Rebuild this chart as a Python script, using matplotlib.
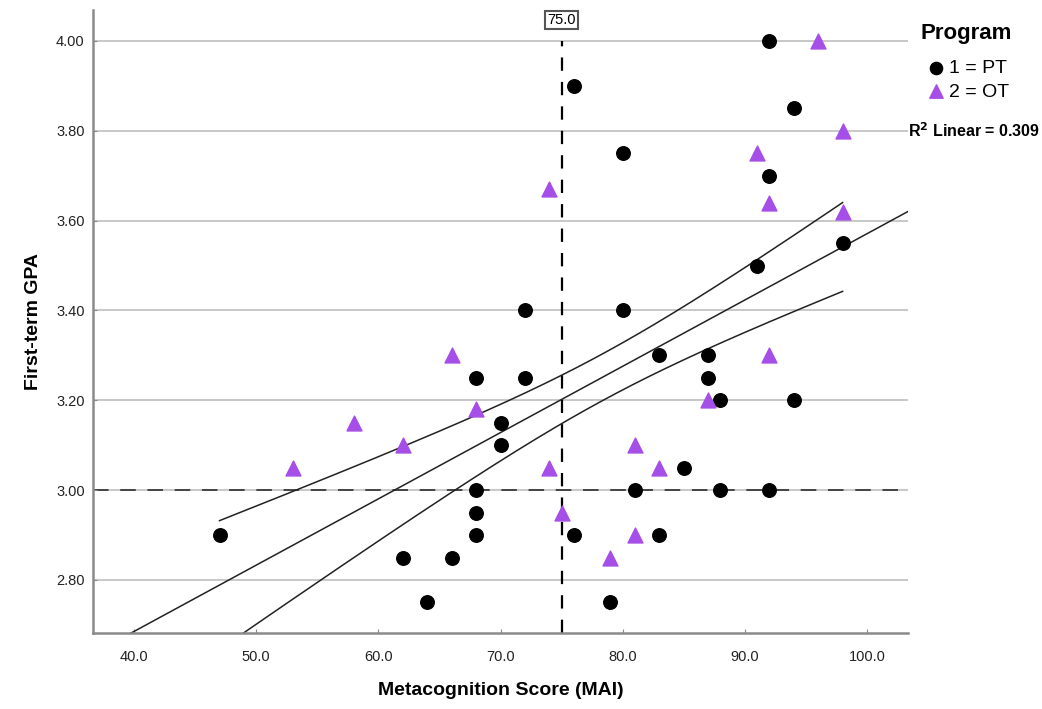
import numpy as np
import matplotlib
matplotlib.use("Agg")
import matplotlib.pyplot as plt

plt.rcParams['font.family'] = ['Liberation Sans', 'DejaVu Sans']

# Program 1 = PT
pt_mai = [92, 76, 94, 80, 92, 98, 91, 72, 80, 83, 87, 68, 72, 87, 88, 94, 70, 70, 85,
          68, 81, 88, 92, 68, 47, 68, 76, 83, 62, 66, 64, 79]
pt_gpa = [4.00, 3.90, 3.85, 3.75, 3.70, 3.55, 3.50, 3.40, 3.40, 3.30, 3.30, 3.25, 3.25, 3.25,
          3.20, 3.20, 3.15, 3.10, 3.05, 3.00, 3.00, 3.00, 3.00, 2.95, 2.90, 2.90, 2.90, 2.90,
          2.85, 2.85, 2.75, 2.75]

# Program 2 = OT
ot_mai = [96, 98, 91, 74, 92, 98, 66, 92, 68, 87, 58, 62, 81, 53, 74, 83, 75, 81, 79]
ot_gpa = [4.00, 3.80, 3.75, 3.67, 3.64, 3.62, 3.30, 3.30, 3.18, 3.20, 3.15, 3.10, 3.10,
          3.05, 3.05, 3.05, 2.95, 2.90, 2.85]

x_ticks = [40, 50, 60, 70, 80, 90, 100]
y_ticks = [2.8, 3.0, 3.2, 3.4, 3.6, 3.8, 4.0]
ref_x = 75.0
ref_y = 3.00
r2_text = "0.309"

# total fit line and its 95% mean band
fit_intercept = 2.095
fit_slope = 0.01476
band_x_mean = 78.3
band_half_at_mean = 0.052
band_growth = 0.00427
band_range = (47, 98)

purple = '#a64ee8'

fig = plt.figure(figsize=(10.42, 7.09), dpi=100)
ax = fig.add_axes([0.0893, 0.1072, 0.7821, 0.8787])
x_lim = (36.65, 103.35)
y_lim = (2.682, 4.069)
ax.set_xlim(*x_lim)
ax.set_ylim(*y_lim)

# grid
for yt in y_ticks:
    ax.axhline(yt, color='#c4c4c4', lw=1.3, zorder=0)

xl = np.linspace(x_lim[0], x_lim[1], 200)
ax.plot(xl, fit_intercept + fit_slope * xl, color='#222222', lw=1.1, zorder=2)
xb = np.linspace(band_range[0], band_range[1], 200)
half = np.sqrt(band_half_at_mean ** 2 + (band_growth * (xb - band_x_mean)) ** 2)
mid = fit_intercept + fit_slope * xb
ax.plot(xb, mid + half, color='#222222', lw=1.1, zorder=2)
ax.plot(xb, mid - half, color='#222222', lw=1.1, zorder=2)

# reference lines
ax.axhline(ref_y, color='#444444', lw=1.4, dashes=(8, 6), zorder=1)
ax.vlines(ref_x, y_lim[0], 4.0, color='black', lw=1.6, linestyles=(0, (6, 5)), zorder=1)
ax.text(ref_x, 4.047, f"{ref_x:.1f}", ha='center', va='center', fontsize=10.5,
        bbox=dict(boxstyle='square,pad=0.15', fc='white', ec='#555555', lw=1.5))

# points
pt = ax.scatter(pt_mai, pt_gpa, s=95, color='black', marker='o', zorder=3, label='1 = PT')
ot = ax.scatter(ot_mai, ot_gpa, s=115, color=purple, marker='^', zorder=3, label='2 = OT')

ax.set_xticks(x_ticks)
ax.set_xticklabels([f"{v:.1f}" for v in x_ticks], fontsize=10.5, color='#222222')
ax.set_yticks(y_ticks)
ax.set_yticklabels([f"{v:.2f}" for v in y_ticks], fontsize=10.5, color='#222222')
ax.tick_params(axis='both', direction='in', length=3, color='#888888')
ax.tick_params(axis='x', pad=12)
ax.tick_params(axis='y', pad=6)

for side in ['top', 'right']:
    ax.spines[side].set_visible(False)
for side in ['left', 'bottom']:
    ax.spines[side].set_color('#8a8a8a')
    ax.spines[side].set_linewidth(1.8)

ax.set_xlabel("Metacognition Score (MAI)", fontsize=14, fontweight='bold', labelpad=13)
ax.set_ylabel("First-term GPA", fontsize=14, fontweight='bold', labelpad=10)

fig.text(966 / 1042, 1 - 33 / 709, "Program", fontsize=16, fontweight='bold',
         ha='center', va='center')
leg = fig.legend(handles=[pt, ot], loc='center',
                 bbox_to_anchor=(968 / 1042, 1 - 80 / 709), frameon=False, fontsize=14,
                 handletextpad=0.2, handlelength=0.9, labelspacing=0.3,
                 borderpad=0, borderaxespad=0, markerscale=0.9)

fig.text(0.8714, 1 - 131 / 709, r"R$^\mathbf{2}$ Linear = " + r2_text, fontsize=11.5,
         fontweight='bold', ha='left', va='center')

fig.savefig("out.png", dpi=100)
